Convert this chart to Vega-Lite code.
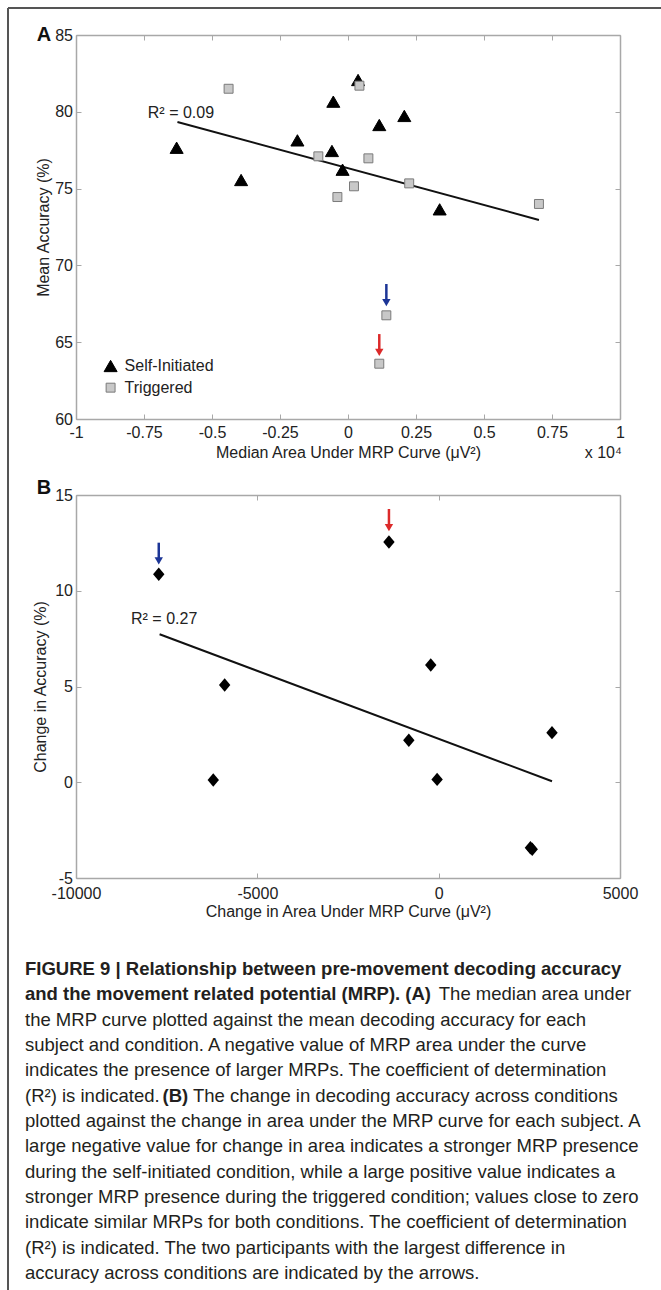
{
  "$schema": "https://vega.github.io/schema/vega-lite/v6.json",
  "background": "white",
  "padding": {"left": 7, "top": 6, "right": 0, "bottom": 0},
  "autosize": {"type": "pad"},
  "bounds": "flush",
  "spacing": 76,
  "resolve": {
    "scale": {"fill": "independent", "stroke": "independent", "shape": "independent", "size": "independent", "color": "independent"}
  },
  "config": {
    "font": "Liberation Sans",
    "view": {"stroke": null},
    "axis": {
      "domainColor": "#a8a8a8", "domainWidth": 1.5,
      "tickColor": "#a8a8a8", "tickWidth": 1,
      "labelColor": "#222222", "labelFontSize": 16, "labelFont": "Liberation Sans",
      "titleColor": "#222222", "titleFontSize": 16, "titleFontWeight": "normal", "titleFont": "Liberation Sans",
      "labelFlush": false, "labelOverlap": false, "grid": false
    },
    "text": {"font": "Liberation Sans", "color": "#222222"}
  },
  "vconcat": [
    {
      "width": 544, "height": 384,
      "resolve": {"axis": {"x": "independent", "y": "independent"}},
      "layer": [
        {
          "data": {"values": [{}]},
          "mark": {"type": "rule", "color": "#555555", "strokeWidth": 2},
          "encoding": {
            "x": {"datum": -1.25, "type": "quantitative", "axis": null},
            "y": {"datum": 86.76, "type": "quantitative", "axis": null},
            "y2": {"datum": 3.23}
          }
        },
        {
          "data": {"values": [{}]},
          "mark": {"type": "rule", "color": "#555555", "strokeWidth": 2},
          "encoding": {
            "x": {"datum": -1.25, "type": "quantitative", "axis": null},
            "x2": {"datum": 1.16},
            "y": {"datum": 86.76, "type": "quantitative", "axis": null}
          }
        },
        {
          "data": {"values": [{"area": -0.627, "accuracy": 79.34}, {"area": 0.702, "accuracy": 72.96}]},
          "mark": {"type": "line", "color": "#111111", "strokeWidth": 2},
          "encoding": {
            "x": {"field": "area", "type": "quantitative",
                  "scale": {"domain": [-1, 1], "nice": false, "zero": false},
                  "axis": {"orient": "top", "values": [-1, -0.75, -0.5, -0.25, 0, 0.25, 0.5, 0.75, 1], "labels": false, "title": null, "tickSize": -5}},
            "y": {"field": "accuracy", "type": "quantitative",
                  "scale": {"domain": [60, 85], "nice": false, "zero": false},
                  "axis": {"orient": "right", "values": [60, 65, 70, 75, 80, 85], "labels": false, "title": null, "tickSize": -5}}
          }
        },
        {
          "data": {"values": [
            {"condition": "Self-Initiated", "area": 0.037, "accuracy": 82.07},
            {"condition": "Self-Initiated", "area": -0.054, "accuracy": 80.66},
            {"condition": "Self-Initiated", "area": 0.207, "accuracy": 79.73},
            {"condition": "Self-Initiated", "area": 0.115, "accuracy": 79.14},
            {"condition": "Self-Initiated", "area": -0.630, "accuracy": 77.66},
            {"condition": "Self-Initiated", "area": -0.186, "accuracy": 78.14},
            {"condition": "Self-Initiated", "area": -0.059, "accuracy": 77.45},
            {"condition": "Self-Initiated", "area": -0.020, "accuracy": 76.23},
            {"condition": "Self-Initiated", "area": -0.393, "accuracy": 75.56},
            {"condition": "Self-Initiated", "area": 0.337, "accuracy": 73.65},
            {"condition": "Triggered", "area": -0.439, "accuracy": 81.5},
            {"condition": "Triggered", "area": 0.042, "accuracy": 81.7},
            {"condition": "Triggered", "area": -0.109, "accuracy": 77.10},
            {"condition": "Triggered", "area": 0.075, "accuracy": 76.97},
            {"condition": "Triggered", "area": 0.022, "accuracy": 75.15},
            {"condition": "Triggered", "area": -0.039, "accuracy": 74.45},
            {"condition": "Triggered", "area": 0.225, "accuracy": 75.34},
            {"condition": "Triggered", "area": 0.702, "accuracy": 74.0},
            {"condition": "Triggered", "area": 0.141, "accuracy": 66.75},
            {"condition": "Triggered", "area": 0.115, "accuracy": 63.6}
          ]},
          "mark": {"type": "point", "filled": true, "opacity": 1, "strokeWidth": 1},
          "encoding": {
            "x": {"field": "area", "type": "quantitative",
                  "axis": {"orient": "bottom", "values": [-1, -0.75, -0.5, -0.25, 0, 0.25, 0.5, 0.75, 1], "labelExpr": "'' + datum.value", "title": "Median Area Under MRP Curve (μV²)", "tickSize": -5, "labelPadding": 10, "titlePadding": 4}},
            "y": {"field": "accuracy", "type": "quantitative",
                  "axis": {"orient": "left", "values": [60, 65, 70, 75, 80, 85], "labelExpr": "'' + datum.value", "title": "Mean Accuracy (%)", "tickSize": -5, "labelPadding": 8.5, "titlePadding": 3}},
            "shape": {"field": "condition", "type": "nominal",
                      "scale": {"domain": ["Self-Initiated", "Triggered"], "range": ["triangle-up", "square"]}, "legend": null},
            "fill": {"field": "condition", "type": "nominal",
                     "scale": {"domain": ["Self-Initiated", "Triggered"], "range": ["#000000", "#c8c8c8"]}, "legend": null},
            "stroke": {"field": "condition", "type": "nominal",
                       "scale": {"domain": ["Self-Initiated", "Triggered"], "range": ["#000000", "#7a7a7a"]}, "legend": null},
            "size": {"field": "condition", "type": "nominal",
                     "scale": {"domain": ["Self-Initiated", "Triggered"], "range": [170, 80]}, "legend": null}
          }
        },
        {
          "data": {"values": [{"condition": "Self-Initiated"}]},
          "mark": {"type": "point", "filled": true, "opacity": 1, "strokeWidth": 1},
          "encoding": {
            "x": {"datum": -0.8728, "type": "quantitative", "axis": null},
            "y": {"datum": 63.45, "type": "quantitative", "axis": null},
            "shape": {"field": "condition", "type": "nominal", "legend": null},
            "fill": {"field": "condition", "type": "nominal", "legend": null},
            "stroke": {"field": "condition", "type": "nominal", "legend": null},
            "size": {"field": "condition", "type": "nominal", "legend": null}
          }
        },
        {
          "data": {"values": [{"condition": "Triggered"}]},
          "mark": {"type": "point", "filled": true, "opacity": 1, "strokeWidth": 1},
          "encoding": {
            "x": {"datum": -0.8728, "type": "quantitative", "axis": null},
            "y": {"datum": 62.04, "type": "quantitative", "axis": null},
            "shape": {"field": "condition", "type": "nominal", "legend": null},
            "fill": {"field": "condition", "type": "nominal", "legend": null},
            "stroke": {"field": "condition", "type": "nominal", "legend": null},
            "size": {"field": "condition", "type": "nominal", "legend": null}
          }
        },
        {
          "data": {"values": [{"condition": "Self-Initiated"}]},
          "mark": {"type": "text", "align": "left", "baseline": "middle", "fontSize": 16},
          "encoding": {
            "x": {"datum": -0.8213, "type": "quantitative", "axis": null},
            "y": {"datum": 63.45, "type": "quantitative", "axis": null},
            "text": {"field": "condition"}
          }
        },
        {
          "data": {"values": [{"condition": "Triggered"}]},
          "mark": {"type": "text", "align": "left", "baseline": "middle", "fontSize": 16},
          "encoding": {
            "x": {"datum": -0.8213, "type": "quantitative", "axis": null},
            "y": {"datum": 62.04, "type": "quantitative", "axis": null},
            "text": {"field": "condition"}
          }
        },
        {
          "data": {"values": [
            {"participant": "P1", "area": 0.141, "from": 68.79, "to": 67.58},
            {"participant": "P2", "area": 0.115, "from": 65.53, "to": 64.33}
          ]},
          "mark": {"type": "rule", "strokeWidth": 2.5},
          "encoding": {
            "x": {"field": "area", "type": "quantitative", "axis": null},
            "y": {"field": "from", "type": "quantitative", "axis": null},
            "y2": {"field": "to"},
            "color": {"field": "participant", "type": "nominal", "scale": {"domain": ["P1", "P2"], "range": ["#1c3596", "#dc2a2a"]}, "legend": null}
          }
        },
        {
          "data": {"values": [
            {"participant": "P1", "area": 0.141, "to": 67.58},
            {"participant": "P2", "area": 0.115, "to": 64.33}
          ]},
          "mark": {"type": "point", "shape": "triangle-down", "filled": true, "opacity": 1, "size": 70},
          "encoding": {
            "x": {"field": "area", "type": "quantitative", "axis": null},
            "y": {"field": "to", "type": "quantitative", "axis": null},
            "color": {"field": "participant", "type": "nominal", "legend": null}
          }
        },
        {
          "data": {"values": [{}]},
          "mark": {"type": "text", "align": "left", "baseline": "middle", "fontSize": 16, "text": "R² = 0.09"},
          "encoding": {
            "x": {"datum": -0.736, "type": "quantitative", "axis": null},
            "y": {"datum": 79.92, "type": "quantitative", "axis": null}
          }
        },
        {
          "data": {"values": [{}]},
          "mark": {"type": "text", "align": "right", "baseline": "middle", "fontSize": 16, "text": "x 10⁴"},
          "encoding": {
            "x": {"datum": 1.007, "type": "quantitative", "axis": null},
            "y": {"datum": 57.79, "type": "quantitative", "axis": null}
          }
        },
        {
          "data": {"values": [{}]},
          "mark": {"type": "text", "align": "center", "baseline": "middle", "fontSize": 20, "fontWeight": "bold", "text": "A", "color": "#111111"},
          "encoding": {
            "x": {"datum": -1.118, "type": "quantitative", "axis": null},
            "y": {"datum": 85, "type": "quantitative", "axis": null}
          }
        }
      ]
    },
    {
      "width": 544, "height": 383,
      "resolve": {"axis": {"x": "independent", "y": "independent"}},
      "layer": [
        {
          "data": {"values": [{"area": -7695, "change": 7.73}, {"area": 3125, "change": 0.05}]},
          "mark": {"type": "line", "color": "#111111", "strokeWidth": 2},
          "encoding": {
            "x": {"field": "area", "type": "quantitative",
                  "scale": {"domain": [-10000, 5000], "nice": false, "zero": false},
                  "axis": {"orient": "top", "values": [-10000, -5000, 0, 5000], "labels": false, "title": null, "tickSize": -5}},
            "y": {"field": "change", "type": "quantitative",
                  "scale": {"domain": [-5, 15], "nice": false, "zero": false},
                  "axis": {"orient": "right", "values": [-5, 0, 5, 10, 15], "labels": false, "title": null, "tickSize": -5}}
          }
        },
        {
          "data": {"values": [
            {"area": -7718, "change": 10.86},
            {"area": -1371, "change": 12.55},
            {"area": -5901, "change": 5.08},
            {"area": -6215, "change": 0.12},
            {"area": -218, "change": 6.12},
            {"area": -823, "change": 2.19},
            {"area": -43, "change": 0.15},
            {"area": 3125, "change": 2.59},
            {"area": 2530, "change": -3.42},
            {"area": 2580, "change": -3.50}
          ]},
          "mark": {"type": "point", "shape": "M-0.85,0L0,-1L0.85,0L0,1Z", "filled": true, "opacity": 1, "size": 180, "color": "#000000"},
          "encoding": {
            "x": {"field": "area", "type": "quantitative",
                  "axis": {"orient": "bottom", "values": [-10000, -5000, 0, 5000], "labelExpr": "'' + datum.value", "title": "Change in Area Under MRP Curve (μV²)", "tickSize": -5, "labelPadding": 12.5, "titlePadding": 2}},
            "y": {"field": "change", "type": "quantitative",
                  "axis": {"orient": "left", "values": [-5, 0, 5, 10, 15], "labelExpr": "'' + datum.value", "title": "Change in Accuracy (%)", "tickSize": -5, "labelPadding": 8.5, "titlePadding": 6}}
          }
        },
        {
          "data": {"values": [
            {"participant": "P1", "area": -7718, "from": 12.51, "to": 11.56},
            {"participant": "P2", "area": -1371, "from": 14.27, "to": 13.30}
          ]},
          "mark": {"type": "rule", "strokeWidth": 2.5},
          "encoding": {
            "x": {"field": "area", "type": "quantitative", "axis": null},
            "y": {"field": "from", "type": "quantitative", "axis": null},
            "y2": {"field": "to"},
            "color": {"field": "participant", "type": "nominal", "scale": {"domain": ["P1", "P2"], "range": ["#1c3596", "#dc2a2a"]}, "legend": null}
          }
        },
        {
          "data": {"values": [
            {"participant": "P1", "area": -7718, "to": 11.56},
            {"participant": "P2", "area": -1371, "to": 13.30}
          ]},
          "mark": {"type": "point", "shape": "triangle-down", "filled": true, "opacity": 1, "size": 70},
          "encoding": {
            "x": {"field": "area", "type": "quantitative", "axis": null},
            "y": {"field": "to", "type": "quantitative", "axis": null},
            "color": {"field": "participant", "type": "nominal", "legend": null}
          }
        },
        {
          "data": {"values": [{}]},
          "mark": {"type": "text", "align": "left", "baseline": "middle", "fontSize": 16, "text": "R² = 0.27"},
          "encoding": {
            "x": {"datum": -8483, "type": "quantitative", "axis": null},
            "y": {"datum": 8.51, "type": "quantitative", "axis": null}
          }
        },
        {
          "data": {"values": [{}]},
          "mark": {"type": "text", "align": "center", "baseline": "middle", "fontSize": 20, "fontWeight": "bold", "text": "B", "color": "#111111"},
          "encoding": {
            "x": {"datum": -10882, "type": "quantitative", "axis": null},
            "y": {"datum": 15.38, "type": "quantitative", "axis": null}
          }
        }
      ]
    },
    {
      "width": 544, "height": 329,
      "data": {"values": [
        {"line": 0, "part": "heading", "text": "FIGURE 9 | Relationship between pre-movement decoding accuracy"},
        {"line": 1, "part": "heading", "text": "and the movement related potential (MRP). (A)"},
        {"line": 1, "part": "heading-tail", "text": "The median area under"},
        {"line": 2, "part": "body", "text": "the MRP curve plotted against the mean decoding accuracy for each"},
        {"line": 3, "part": "body", "text": "subject and condition. A negative value of MRP area under the curve"},
        {"line": 4, "part": "body", "text": "indicates the presence of larger MRPs. The coefficient of determination"},
        {"line": 5, "part": "body", "text": "(R²) is indicated."},
        {"line": 5, "part": "panel-ref", "text": "(B)"},
        {"line": 5, "part": "panel-ref-tail", "text": "The change in decoding accuracy across conditions"},
        {"line": 6, "part": "body", "text": "plotted against the change in area under the MRP curve for each subject. A"},
        {"line": 7, "part": "body", "text": "large negative value for change in area indicates a stronger MRP presence"},
        {"line": 8, "part": "body", "text": "during the self-initiated condition, while a large positive value indicates a"},
        {"line": 9, "part": "body", "text": "stronger MRP presence during the triggered condition; values close to zero"},
        {"line": 10, "part": "body", "text": "indicate similar MRPs for both conditions. The coefficient of determination"},
        {"line": 11, "part": "body", "text": "(R²) is indicated. The two participants with the largest difference in"},
        {"line": 12, "part": "body", "text": "accuracy across conditions are indicated by the arrows."}
      ]},
      "layer": [
        {
          "transform": [{"filter": "datum.part === 'heading'"}],
          "mark": {"type": "text", "align": "left", "baseline": "middle", "fontSize": 18.5, "fontWeight": "bold", "color": "#231f20"},
          "encoding": {
            "x": {"datum": 0, "type": "quantitative", "scale": {"domain": [0.0838, 0.9778], "nice": false, "zero": false}, "axis": null},
            "y": {"field": "line", "type": "quantitative", "scale": {"domain": [-0.6, 12.4], "reverse": true, "nice": false, "zero": false}, "axis": null},
            "text": {"field": "text"}
          }
        },
        {
          "transform": [{"filter": "datum.part === 'heading-tail'"}],
          "mark": {"type": "text", "align": "left", "baseline": "middle", "fontSize": 18.5, "color": "#231f20"},
          "encoding": {
            "x": {"datum": 0.68, "type": "quantitative", "axis": null},
            "y": {"field": "line", "type": "quantitative", "axis": null},
            "text": {"field": "text"}
          }
        },
        {
          "transform": [{"filter": "datum.part === 'body'"}],
          "mark": {"type": "text", "align": "left", "baseline": "middle", "fontSize": 18.5, "color": "#231f20"},
          "encoding": {
            "x": {"datum": 0, "type": "quantitative", "axis": null},
            "y": {"field": "line", "type": "quantitative", "axis": null},
            "text": {"field": "text"}
          }
        },
        {
          "transform": [{"filter": "datum.part === 'panel-ref'"}],
          "mark": {"type": "text", "align": "left", "baseline": "middle", "fontSize": 18.5, "fontWeight": "bold", "color": "#231f20"},
          "encoding": {
            "x": {"datum": 0.2261, "type": "quantitative", "axis": null},
            "y": {"field": "line", "type": "quantitative", "axis": null},
            "text": {"field": "text"}
          }
        },
        {
          "transform": [{"filter": "datum.part === 'panel-ref-tail'"}],
          "mark": {"type": "text", "align": "left", "baseline": "middle", "fontSize": 18.5, "color": "#231f20"},
          "encoding": {
            "x": {"datum": 0.276, "type": "quantitative", "axis": null},
            "y": {"field": "line", "type": "quantitative", "axis": null},
            "text": {"field": "text"}
          }
        }
      ]
    }
  ]
}
